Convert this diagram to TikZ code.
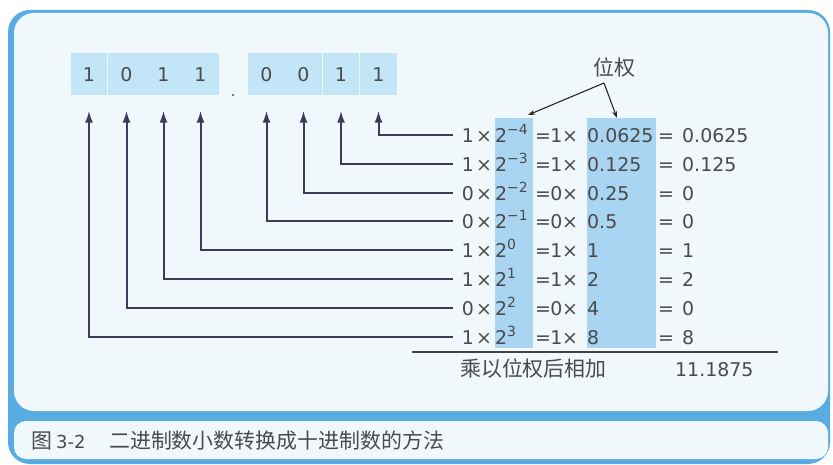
\documentclass[tikz,border=0pt]{standalone}
\usepackage{fontspec}
\setmainfont{DejaVu Sans}
\newfontfamily\cjk{Noto Sans CJK SC}
\usetikzlibrary{arrows.meta}
\definecolor{frameblue}{HTML}{58ACE2}
\definecolor{panel}{HTML}{F0F8FC}
\definecolor{bitbox}{HTML}{C2E6F7}
\definecolor{colhl}{HTML}{A9D5F3}
\definecolor{txt}{HTML}{4A4A4A}
\definecolor{arrowc}{HTML}{3C3D5A}
\newcommand{\rowfont}{\fontsize{19}{19}\selectfont}
\newcommand{\supx}[1]{\raisebox{8bp}{\fontsize{14}{14}\selectfont #1}}
\begin{document}
\begin{tikzpicture}[x=1bp,y=-1bp,
  bit/.style={fill=bitbox, minimum width=36.5bp, minimum height=42bp, inner sep=0pt, font=\rowfont, text=txt},
  rt/.style={inner sep=0pt, font=\rowfont, text=txt, anchor=base},
  rtw/.style={inner sep=0pt, font=\rowfont, text=txt, anchor=base west},
  conn/.style={draw=arrowc, line width=2bp, -{Latex[length=12bp,width=8bp]}, shorten >=15bp},
  pwarrow/.style={draw=black!85, line width=1.1bp, -{Stealth[length=7bp,width=5bp]}},
  hl/.style={fill=colhl, draw=none, inner sep=0pt},
  cjktxt/.style={inner sep=0pt, font=\cjk\fontsize{21}{21}\selectfont, text=txt}
]
\useasboundingbox (0,0) rectangle (833,465);
% frame
\fill[white] (0,0) rectangle (833,465);
\fill[frameblue, rounded corners=22bp] (8,10) rectangle (830,464);
\fill[panel, rounded corners=20bp] (14,13) rectangle (828,411);
\fill[panel, rounded corners=12bp] (14,421) rectangle (828,459);

% bits
\node[bit] (b1) at (89,74.5) {1};
\node[bit] (b2) at (126.5,74.5) {0};
\node[bit] (b3) at (163.5,74.5) {1};
\node[bit] (b4) at (200.5,74.5) {1};
\node[bit] (b5) at (266.5,74.5) {0};
\node[bit] (b6) at (303.5,74.5) {0};
\node[bit] (b7) at (341,74.5) {1};
\node[bit] (b8) at (378.5,74.5) {1};
\fill[txt] (233,95) circle (1.1bp);

% highlight columns
\node[hl, minimum width=38bp, minimum height=230bp] (col1) at (514,233) {};
\node[hl, minimum width=69bp, minimum height=230bp] (col2) at (621.5,233) {};

% rows
\newcommand{\bitrow}[8]{%
  \coordinate (#1) at (453,#2);
  \node[rt] at (468,#2+7.5) {#3};
  \node[rt] at (484,#2+7.5) {×};
  \node[rtw] at (495,#2+7.5) {2\supx{#4}};
  \node[rt] at (543,#2+7.5) {=};
  \node[rt] at (556.5,#2+7.5) {#5};
  \node[rt] at (570,#2+7.5) {×};
  \node[rtw] at (587,#2+7.5) {#6};
  \node[rt] at (666,#2+7.5) {=};
  \node[rtw] at (682,#2+7.5) {#7};
}
\bitrow{s1}{135}{1}{−4}{1}{0.0625}{0.0625}{}
\bitrow{s2}{164}{1}{−3}{1}{0.125}{0.125}{}
\bitrow{s3}{193}{0}{−2}{0}{0.25}{0}{}
\bitrow{s4}{221.5}{0}{−1}{0}{0.5}{0}{}
\bitrow{s5}{250}{1}{0}{1}{1}{1}{}
\bitrow{s6}{279}{1}{1}{1}{2}{2}{}
\bitrow{s7}{308}{0}{2}{0}{4}{0}{}
\bitrow{s8}{337}{1}{3}{1}{8}{8}{}

% connectors
\draw[conn] (s1) -| (b8);
\draw[conn] (s2) -| (b7);
\draw[conn] (s3) -| (b6);
\draw[conn] (s4) -| (b5);
\draw[conn] (s5) -| (b4);
\draw[conn] (s6) -| (b3);
\draw[conn] (s7) -| (b2);
\draw[conn] (s8) -| (b1);

% weight label
\node[cjktxt] (pw) at (614,68) {位权};
\coordinate (pwa) at (604,83);
\coordinate (tl) at (528,115);
\coordinate (tr) at (617,118);
\draw[pwarrow] (pwa) -- (tl);
\draw[pwarrow] (pwa) -- (tr);

% sum
\coordinate (ul) at (412,352);
\coordinate (ur) at (778,352);
\draw[draw=txt!90!black, line width=1.6bp] (ul) -- (ur);
\node[cjktxt, anchor=base west] (sumlbl) at (460,377) {乘以位权后相加};
\node[rtw] (sumval) at (675,377) {11.1875};

% caption
\node[cjktxt, anchor=base west] (capn) at (31,448) {图\hspace{4bp}{\rmfamily\fontsize{18}{18}\selectfont 3-2}};
\node[cjktxt, anchor=base west] (capt) at (109,448) {二进制数小数转换成十进制数的方法};
\end{tikzpicture}
\end{document}
